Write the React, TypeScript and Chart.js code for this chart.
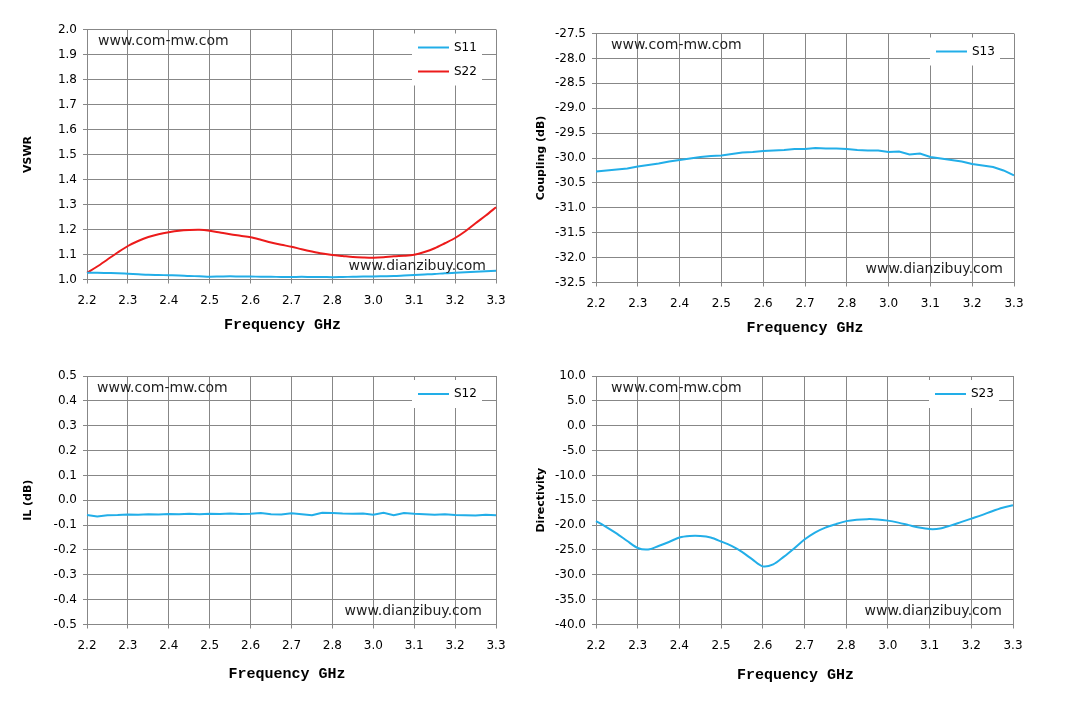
import { useEffect, useRef } from 'react';
import { Chart, registerables, type ChartConfiguration, type Plugin } from 'chart.js';

Chart.register(...registerables);

// Excel-style category axis: 11 labelled ticks, 4 samples per tick interval.
const TICK_LABELS = ['2.2', '2.3', '2.4', '2.5', '2.6', '2.7', '2.8', '3.0', '3.1', '3.2', '3.3'];
const STEPS_PER_TICK = 4;

const S11 = [
  1.027, 1.027, 1.026, 1.025, 1.023, 1.021, 1.019, 1.018, 1.017, 1.016,
  1.014, 1.013, 1.011, 1.012, 1.013, 1.012, 1.012, 1.011, 1.011, 1.010,
  1.010, 1.011, 1.010, 1.010, 1.009, 1.010, 1.011, 1.012, 1.012, 1.013,
  1.014, 1.016, 1.018, 1.020, 1.022, 1.025, 1.027, 1.029, 1.031, 1.033,
  1.035,
];
const S22 = [
  1.027, 1.052, 1.080, 1.108, 1.134, 1.154, 1.170, 1.181, 1.189, 1.195,
  1.198, 1.199, 1.195, 1.188, 1.181, 1.175, 1.169, 1.159, 1.148, 1.139,
  1.131, 1.121, 1.112, 1.104, 1.098, 1.094, 1.090, 1.088, 1.087, 1.089,
  1.093, 1.095, 1.099, 1.110, 1.125, 1.145, 1.166, 1.193, 1.225, 1.256,
  1.289,
];
const S13 = [
  -30.27, -30.25, -30.23, -30.21, -30.17, -30.14, -30.11, -30.07, -30.04, -30.01,
  -29.98, -29.96, -29.95, -29.92, -29.89, -29.88, -29.86, -29.85, -29.84, -29.82,
  -29.82, -29.80, -29.81, -29.81, -29.82, -29.84, -29.85, -29.85, -29.88, -29.87,
  -29.93, -29.91, -29.98, -30.01, -30.04, -30.07, -30.12, -30.15, -30.18, -30.25,
  -30.35,
];
const S12 = [
  -0.059, -0.065, -0.060, -0.059, -0.057, -0.058, -0.056, -0.057, -0.055, -0.056,
  -0.054, -0.056, -0.054, -0.055, -0.053, -0.055, -0.054, -0.051, -0.056, -0.057,
  -0.052, -0.056, -0.060, -0.050, -0.051, -0.053, -0.054, -0.053, -0.058, -0.050,
  -0.060, -0.051, -0.054, -0.056, -0.058, -0.056, -0.059, -0.060, -0.061, -0.058,
  -0.060,
];
const S23 = [
  -19.2, -20.4, -21.7, -23.2, -24.6, -24.9, -24.2, -23.4, -22.5, -22.2,
  -22.2, -22.5, -23.3, -24.2, -25.4, -26.9, -28.3, -27.9, -26.4, -24.7,
  -22.9, -21.5, -20.5, -19.8, -19.2, -18.9, -18.8, -18.85, -19.1, -19.5,
  -20.0, -20.5, -20.8, -20.7, -20.1, -19.4, -18.7, -18.0, -17.2, -16.5,
  -16.0,
];

const POINT_LABELS = Array.from(
  { length: (TICK_LABELS.length - 1) * STEPS_PER_TICK + 1 },
  (_, i) => (i % STEPS_PER_TICK === 0 ? TICK_LABELS[i / STEPS_PER_TICK] : ''),
);

const CYAN = '#22aee8';
const RED = '#ec1b1b';
const GRID = '#878787';
const SANS = '"DejaVu Sans", sans-serif';

// Watermarks and the boxed legend, drawn over the plot like Excel text boxes.
const overlay: Plugin<'line'> = {
  id: 'overlay',
  afterDraw(chart, _args, opts: any) {
    const { ctx, chartArea: a } = chart;
    ctx.save();
    ctx.font = `14px ${SANS}`;
    ctx.fillStyle = '#1e1e1e';
    ctx.textBaseline = 'middle';
    ctx.textAlign = 'left';
    ctx.fillText('www.com-mw.com', a.left + opts.markLeft, a.top + 12);
    ctx.textAlign = 'right';
    ctx.fillText('www.dianzibuy.com', a.right - opts.markRight, a.bottom - 13);

    const items = chart.data.datasets;
    const bw = 70;
    const bx = a.right - 14 - bw;
    const by = a.top + 4;
    ctx.fillStyle = '#fff';
    ctx.fillRect(bx, by, bw, 28 + 24 * (items.length - 1));
    ctx.font = `12px ${SANS}`;
    ctx.textAlign = 'left';
    items.forEach((ds, i) => {
      const cy = by + 14 + 24 * i;
      ctx.strokeStyle = ds.borderColor as string;
      ctx.lineWidth = 2;
      ctx.beginPath();
      ctx.moveTo(bx + 6, cy);
      ctx.lineTo(bx + 37, cy);
      ctx.stroke();
      ctx.fillStyle = '#000';
      ctx.fillText(ds.label ?? '', bx + 42, cy);
    });
    ctx.restore();
  },
};

interface Series {
  label: string;
  data: number[];
  color: string;
  tension: number;
}

interface PanelProps {
  left: number;
  top: number;
  width: number;
  height: number;
  // plot rectangle inside the canvas
  area: { left: number; top: number; right: number; bottom: number };
  yMin: number;
  yMax: number;
  yStep: number;
  yTitle: string;
  yTitlePad: number;
  xTitlePad: number;
  xTitleShift: number;
  markLeft: number;
  markRight: number;
  series: Series[];
}

function Panel(p: PanelProps) {
  const canvasRef = useRef<HTMLCanvasElement | null>(null);

  useEffect(() => {
    const canvas = canvasRef.current;
    if (!canvas) return;
    const tickGrid = (c: any) => (c.index % STEPS_PER_TICK === 0 ? GRID : 'transparent');

    const config: ChartConfiguration<'line'> = {
      type: 'line',
      data: {
        labels: POINT_LABELS,
        datasets: p.series.map((s) => ({
          label: s.label,
          data: s.data,
          borderColor: s.color,
          backgroundColor: s.color,
          borderWidth: 2,
          pointRadius: 0,
          tension: s.tension,
          fill: false,
        })),
      },
      options: {
        animation: false,
        responsive: false,
        events: [],
        layout: {
          padding: { left: 0, top: p.area.top, right: p.width - p.area.right, bottom: 0 },
        },
        scales: {
          x: {
            type: 'category',
            grid: { color: tickGrid, tickColor: tickGrid, tickLength: 4 },
            border: { color: GRID },
            ticks: {
              autoSkip: false,
              maxRotation: 0,
              minRotation: 0,
              padding: 10,
              color: '#000',
              font: { family: SANS, size: 12 },
            },
            title: {
              display: true,
              text: 'Frequency GHz' + ' '.repeat(p.xTitleShift),
              color: '#000',
              font: { family: '"Liberation Mono", monospace', size: 15, weight: 'bold' },
              padding: { top: 0, bottom: p.xTitlePad },
            },
            afterFit: (scale) => {
              scale.height = p.height - p.area.bottom;
            },
          },
          y: {
            min: p.yMin,
            max: p.yMax,
            grid: { color: GRID, tickLength: 4 },
            border: { color: GRID },
            ticks: {
              stepSize: p.yStep,
              padding: 6,
              color: '#000',
              font: { family: SANS, size: 12 },
              callback: (v) => (Math.abs(Number(v)) < 1e-9 ? 0 : Number(v)).toFixed(1),
            },
            title: {
              display: true,
              text: p.yTitle,
              color: '#000',
              font: { family: SANS, size: 11, weight: 'bold' },
              padding: { top: p.yTitlePad, bottom: 0 },
            },
            afterFit: (scale) => {
              scale.width = p.area.left;
            },
          },
        },
        plugins: {
          legend: { display: false },
          tooltip: { enabled: false },
          overlay: { markLeft: p.markLeft, markRight: p.markRight },
        } as any,
      },
      plugins: [overlay],
    };

    const chart = new Chart(canvas, config);
    return () => chart.destroy();
  }, [p]);

  return (
    <canvas
      ref={canvasRef}
      width={p.width}
      height={p.height}
      style={{ position: 'absolute', left: p.left, top: p.top, width: p.width, height: p.height }}
    />
  );
}

const PANELS: PanelProps[] = [
  {
    left: 0, top: 0, width: 535, height: 350,
    area: { left: 87, top: 29.5, right: 496, bottom: 279.5 },
    yMin: 1.0, yMax: 2.0, yStep: 0.1, yTitle: 'VSWR', yTitlePad: 22,
    xTitlePad: 16, xTitleShift: 2, markLeft: 11, markRight: 10,
    series: [
      { label: 'S11', data: S11, color: CYAN, tension: 0.3 },
      { label: 'S22', data: S22, color: RED, tension: 0.3 },
    ],
  },
  {
    left: 525, top: 0, width: 546, height: 350,
    area: { left: 71, top: 33.5, right: 489, bottom: 282.5 },
    yMin: -32.5, yMax: -27.5, yStep: 0.5, yTitle: 'Coupling (dB)', yTitlePad: 10,
    xTitlePad: 13, xTitleShift: 0, markLeft: 15, markRight: 11,
    series: [{ label: 'S13', data: S13, color: CYAN, tension: 0 }],
  },
  {
    left: 0, top: 350, width: 535, height: 355,
    area: { left: 87, top: 26, right: 496, bottom: 274.5 },
    yMin: -0.5, yMax: 0.5, yStep: 0.1, yTitle: 'IL (dB)', yTitlePad: 22,
    xTitlePad: 22, xTitleShift: 1, markLeft: 10, markRight: 14,
    series: [{ label: 'S12', data: S12, color: CYAN, tension: 0 }],
  },
  {
    left: 525, top: 350, width: 546, height: 355,
    area: { left: 71, top: 26, right: 488, bottom: 274.5 },
    yMin: -40, yMax: 10, yStep: 5, yTitle: 'Directivity', yTitlePad: 10,
    xTitlePad: 21, xTitleShift: 2, markLeft: 15, markRight: 11,
    series: [{ label: 'S23', data: S23, color: CYAN, tension: 0.3 }],
  },
];

export default function App() {
  return (
    <div style={{ position: 'absolute', left: 0, top: 0, width: 1071, height: 705, background: '#fff' }}>
      {PANELS.map((p) => (
        <Panel key={p.series[0].label} {...p} />
      ))}
    </div>
  );
}
